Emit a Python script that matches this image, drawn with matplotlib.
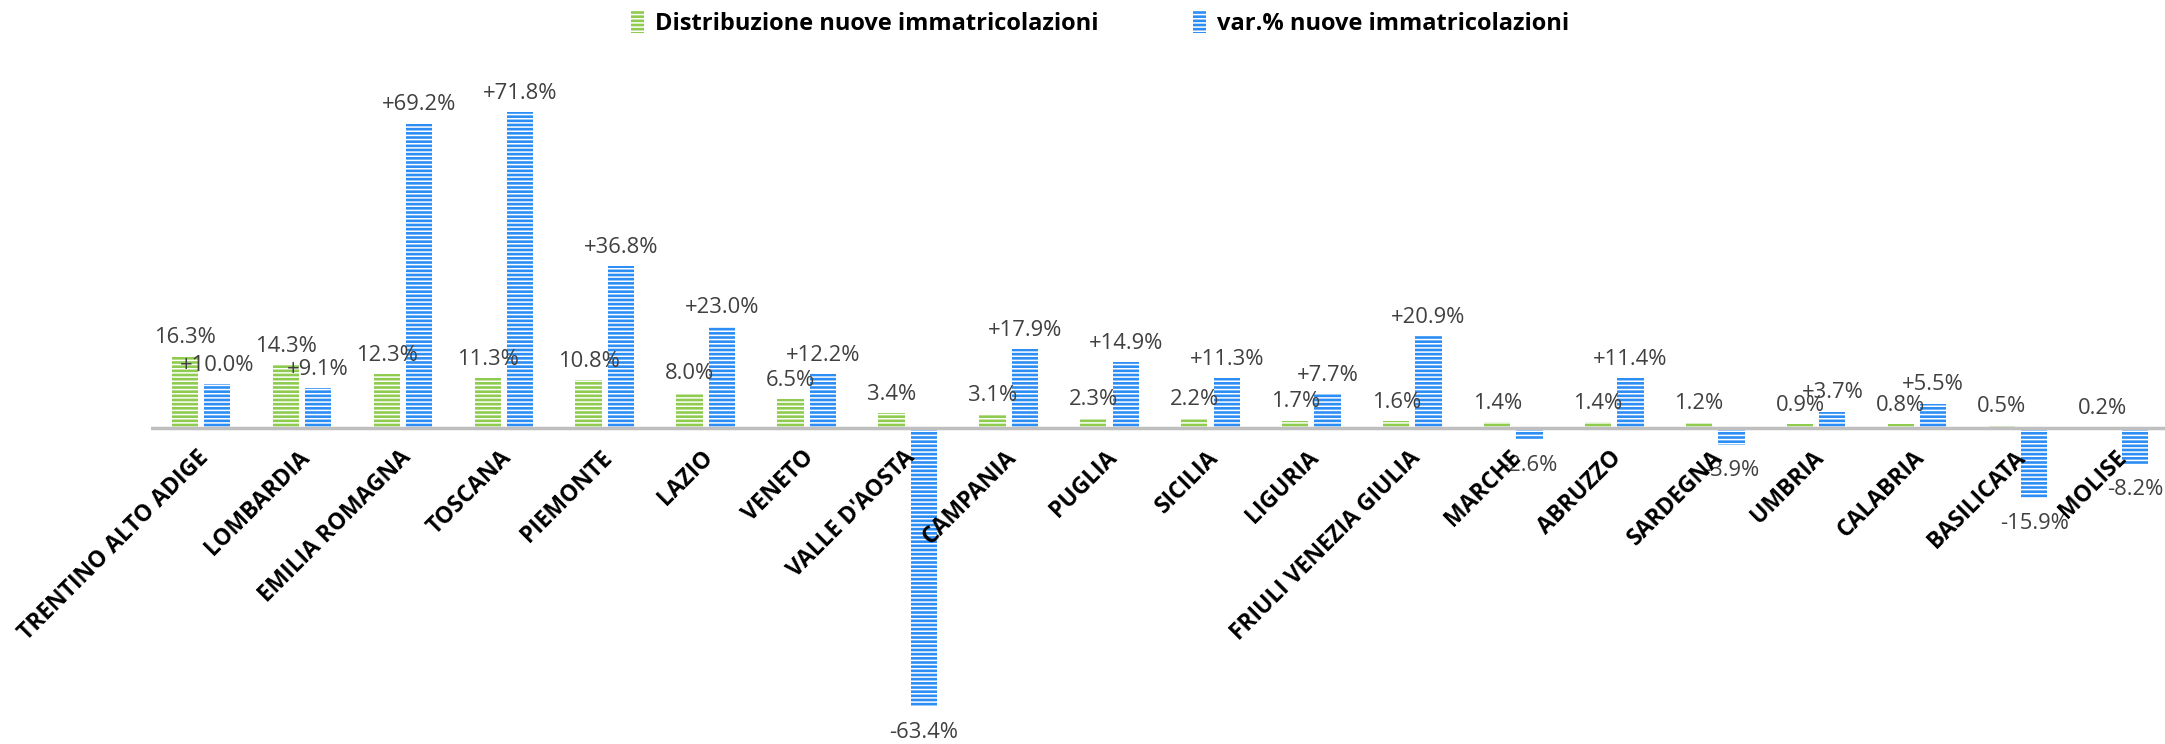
import matplotlib
matplotlib.use("Agg")
import matplotlib.pyplot as plt
from matplotlib.patches import Patch

plt.rcParams['font.family'] = ['Open Sans', 'DejaVu Sans']
plt.rcParams['hatch.linewidth'] = 1.1

regions = ["TRENTINO ALTO ADIGE", "LOMBARDIA", "EMILIA ROMAGNA", "TOSCANA", "PIEMONTE",
           "LAZIO", "VENETO", "VALLE D'AOSTA", "CAMPANIA", "PUGLIA", "SICILIA", "LIGURIA",
           "FRIULI VENEZIA GIULIA", "MARCHE", "ABRUZZO", "SARDEGNA", "UMBRIA", "CALABRIA",
           "BASILICATA", "MOLISE"]
distribuzione = [16.3, 14.3, 12.3, 11.3, 10.8, 8.0, 6.5, 3.4, 3.1, 2.3, 2.2, 1.7, 1.6,
                 1.4, 1.4, 1.2, 0.9, 0.8, 0.5, 0.2]
variazione = [10.0, 9.1, 69.2, 71.8, 36.8, 23.0, 12.2, -63.4, 17.9, 14.9, 11.3, 7.7, 20.9,
              -2.6, 11.4, -3.9, 3.7, 5.5, -15.9, -8.2]
legend_labels = ["Distribuzione nuove immatricolazioni", "var.% nuove immatricolazioni"]

GREEN = '#8ECB4E'
BLUE = '#2C8EF4'
LABEL_C = '#404040'

W, H = 2165, 744
fig = plt.figure(figsize=(W / 100, H / 100), dpi=100)
ymin, ymax = -70, 80
px_per_unit = 4.4
zero_px = 428
top_px = zero_px - ymax * px_per_unit
bot_px = zero_px - ymin * px_per_unit
left_px, right_px = 150.5, 2169.5
ax = fig.add_axes([left_px / W, (H - bot_px) / H, (right_px - left_px) / W, (bot_px - top_px) / H])
ax.set_xlim(-0.5, len(regions) - 0.5)
ax.set_ylim(ymin, ymax)
ax.axis('off')

x = list(range(len(regions)))
bw = 0.26
off = 0.16
ax.bar([i - off for i in x], distribuzione, width=bw, color=GREEN, edgecolor='white',
       linewidth=0, hatch='----', zorder=2)
ax.bar([i + off for i in x], variazione, width=bw, color=BLUE, edgecolor='white',
       linewidth=0, hatch='----', zorder=2)
ax.axhline(0, color='#BFBFBF', linewidth=2.5, zorder=3)

FS = 15.8
for i, v in enumerate(distribuzione):
    ax.annotate(f"{v:.1f}%", xy=(i - off, v), xytext=(0, 6), textcoords='offset points',
                ha='center', va='bottom', fontsize=FS, color=LABEL_C, zorder=5)
for i, v in enumerate(variazione):
    if v >= 0:
        ax.annotate(f"+{v:.1f}%", xy=(i + off, v), xytext=(0, 6), textcoords='offset points',
                    ha='center', va='bottom', fontsize=FS, color=LABEL_C, zorder=5)
    else:
        ax.annotate(f"{v:.1f}%", xy=(i + off, v), xytext=(0, -11), textcoords='offset points',
                    ha='center', va='top', fontsize=FS, color=LABEL_C, zorder=5)

for i, name in enumerate(regions):
    ax.annotate(name, xy=(i, 0), xytext=(3, -19), textcoords='offset points',
                rotation=45, ha='right', va='center', rotation_mode='anchor',
                fontsize=16.5, fontweight='bold', color='black', zorder=5)

handles = [Patch(facecolor=GREEN, edgecolor='white', linewidth=0, hatch='----'),
           Patch(facecolor=BLUE, edgecolor='white', linewidth=0, hatch='----')]
fig.legend(handles, legend_labels, loc='center', bbox_to_anchor=(1100 / W, 1 - 23 / H),
           ncol=2, frameon=False, prop={'weight': 'bold', 'size': 17},
           handlelength=0.55, handleheight=1.1, handletextpad=0.45, columnspacing=4.0)

fig.savefig('out.png', dpi=100)
